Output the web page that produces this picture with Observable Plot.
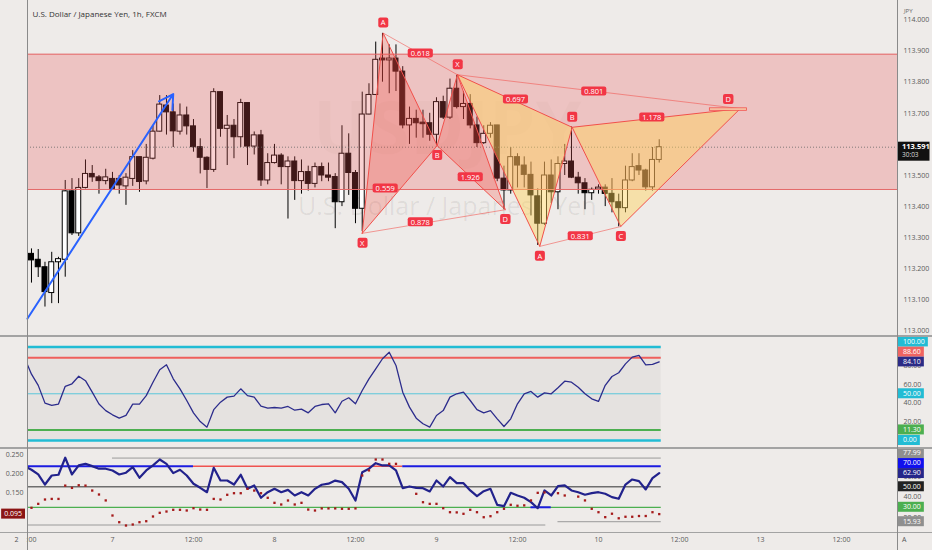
<!DOCTYPE html>
<html>
<head>
<meta charset="utf-8">
<script src="https://cdn.jsdelivr.net/npm/d3@7"></script>
<script src="https://cdn.jsdelivr.net/npm/@observablehq/plot@0.6"></script>
<style>
  html,body{margin:0;padding:0;background:#eeebe9;}
  #wrap{position:relative;width:932px;height:550px;overflow:hidden;background:#eeebe9;font-family:"Open Sans",sans-serif;}
  #wrap svg{position:absolute;left:0;}
  .sep{position:absolute;background:#a3a3a3;}
</style>
</head>
<body>
<div id="wrap"></div>
<script>
// ---------------- DATA ----------------
const openP = [113.248,113.229,113.205,113.122,113.221,113.229,113.449,113.314,113.46,113.505,
113.494,113.482,113.489,113.489,113.465,113.489,113.559,113.481,113.554,113.641,
113.725,113.703,113.641,113.693,113.658,113.591,113.557,113.518,113.768,113.65,
113.66,113.623,113.733,113.593,113.629,113.484,113.54,113.564,113.527,113.545,
113.482,113.511,113.473,113.527,113.5,113.495,113.414,113.57,113.508,113.393,
113.696,113.759,113.876,113.87,113.876,113.834,113.661,113.682,113.67,113.668,
113.631,113.736,113.686,113.779,113.72,113.73,113.661,113.604,113.634,113.661,
113.49,113.452,113.559,113.532,113.502,113.433,113.345,113.5,113.446,113.537,
113.545,113.493,113.475,113.443,113.455,113.461,113.441,113.414,113.395,113.484,
113.53,113.516,113.462,113.55];
const highP = [113.264,113.262,113.221,113.253,113.237,113.484,113.49,113.49,113.55,113.532,
113.5,113.52,113.51,113.5,113.506,113.58,113.559,113.6,113.66,113.757,
113.757,113.73,113.73,113.72,113.68,113.618,113.56,113.779,113.77,113.693,
113.68,113.745,113.733,113.64,113.645,113.57,113.6,113.57,113.56,113.56,
113.55,113.53,113.54,113.54,113.54,113.506,113.66,113.634,113.516,113.768,
113.795,113.929,113.957,113.92,113.92,113.85,113.72,113.71,113.71,113.7,
113.75,113.755,113.81,113.822,113.77,113.76,113.688,113.66,113.67,113.661,
113.53,113.59,113.57,113.56,113.543,113.457,113.543,113.55,113.56,113.6,
113.656,113.51,113.49,113.46,113.47,113.47,113.49,113.44,113.53,113.57,
113.57,113.52,113.59,113.615];
const lowP = [113.154,113.172,113.077,113.088,113.088,113.173,113.307,113.304,113.457,113.478,
113.44,113.47,113.457,113.44,113.404,113.465,113.446,113.47,113.55,113.64,
113.63,113.59,113.63,113.63,113.575,113.505,113.458,113.51,113.623,113.532,
113.554,113.59,113.532,113.566,113.465,113.47,113.537,113.47,113.36,113.42,
113.44,113.45,113.46,113.48,113.48,113.329,113.4,113.436,113.345,113.32,
113.695,113.757,113.8,113.763,113.77,113.65,113.6,113.62,113.62,113.61,
113.596,113.68,113.68,113.714,113.68,113.65,113.59,113.6,113.62,113.48,
113.39,113.44,113.46,113.46,113.37,113.275,113.34,113.41,113.39,113.5,
113.49,113.44,113.39,113.42,113.44,113.4,113.38,113.335,113.38,113.48,
113.5,113.45,113.45,113.54];
const closeP = [113.227,113.205,113.125,113.221,113.231,113.449,113.314,113.46,113.505,113.494,
113.482,113.494,113.457,113.468,113.493,113.559,113.479,113.557,113.641,113.728,
113.703,113.642,113.693,113.658,113.591,113.557,113.518,113.768,113.65,113.66,
113.623,113.733,113.593,113.629,113.484,113.54,113.564,113.527,113.545,113.482,
113.511,113.473,113.527,113.5,113.493,113.414,113.57,113.508,113.393,113.696,
113.759,113.872,113.87,113.876,113.834,113.661,113.682,113.668,113.665,113.631,
113.736,113.686,113.779,113.72,113.73,113.661,113.604,113.634,113.66,113.49,
113.452,113.559,113.532,113.502,113.436,113.345,113.5,113.446,113.537,113.545,
113.493,113.475,113.443,113.454,113.461,113.441,113.414,113.395,113.484,113.527,
113.516,113.462,113.55,113.591];

const zoneLow = 113.455, zoneHigh = 113.89;
const mainTicks = [113.0,113.1,113.2,113.3,113.4,113.5,113.6,113.7,113.8,113.9,114.0];

const pointNames = ["X","A","B","C","D"];
const p1Bars = [49.0, 52.1, 60.1, 63.1, 70.2];
const p1Prices = [113.314, 113.958, 113.596, 113.824, 113.39];
const p2Bars = [63.1, 75.3, 80.1, 87.3, 105.0];
const p2Prices = [113.824, 113.272, 113.655, 113.336, 113.715];
const ratio1Text = ["0.618","0.559","1.926","0.878"];
const ratio1Bars = [57.6, 52.4, 65.0, 57.6];
const ratio1Prices = [113.892, 113.458, 113.494, 113.349];
const ratio2Text = ["0.697","0.801","1.178","0.831"];
const ratio2Bars = [71.7, 83.3, 91.9, 81.3];
const ratio2Prices = [113.744, 113.77, 113.686, 113.304];
const dMarkBars = [100.5, 106.0];
const dMarkPrices = [113.708, 113.716];

const arrowBars = [-0.59, 21.0];
const arrowPrices = [113.04, 113.762];

const titleText = "U.S. Dollar / Japanese Yen, 1h, FXCM";
const watermarkText = ["USDJPY", "U.S. Dollar / Japanese Yen"];
const watermarkBars = [61.6, 61.6];
const watermarkPrices = [113.645, 113.40];

const rsiPrev = 88;
const rsiVals = [71,59,40,37.5,39,58,60.7,68.8,64,51.7,
39,32,27.5,24,26.8,39,39,48,62.4,75.7,
81,66,55.3,42.8,29.6,20.3,14.3,33,41,46.4,
47.5,55.3,48,46.4,36.7,34.6,35.3,34.6,36.4,32.4,
33.5,29.6,36.4,38.5,39.3,29.6,42,45.7,39.3,53.5,
66,76.7,87.5,94.5,80.3,51.7,35.7,23.9,17.9,14.3,
26.8,32,46.4,50,51.7,42.8,33,29.6,32,23.2,
15,23.2,39.3,50,52.5,46.4,51,50,56.4,63.5,
62.4,57,50,44.6,41.8,59,68.5,72.5,82,89.2,
91,81,81.4,84.1];
const rsiUpper = 88.6, rsiLower = 11.3, rsiMid = 50, rsiTop = 100, rsiBottom = 0;

const oscPrev = 70;
const oscVals = [66.6,62,52.2,61,61.7,78.3,62,70.8,72.4,70.1,
67.6,67.6,65.9,62,63.7,69.1,58.8,65.9,70.8,76.6,
72.4,63.3,66.6,61,52.9,49,44.7,68.5,56.1,56.1,
52.2,61.7,48,51.3,39.3,44.7,48,44.7,47,41.5,
44.7,41.5,48,52,53,56,54.5,48,36.6,64.2,
67.6,73,70.8,70.8,65.9,48.6,50.3,49,48.6,45.4,
56.1,50.3,59.4,53.5,53.5,46.4,40.8,45.7,48,32.4,
31.1,44.1,41.5,39.3,35,29.1,46.4,41.5,50.6,51.3,
46.4,44.7,42.2,43.8,44.7,43.2,39.9,38.3,52.2,57.1,
55.5,47.4,58.4,63.3];
const sarVals = [.1116,.122,.1334,.135,.135,.170,.164,.171,.170,.157,
.1466,.131,.0913,.0737,.065,.0676,.0737,.0763,.0887,.0984,
.1018,.1063,.1063,.1045,.1105,.107,.1063,.135,.1334,.1458,
.15,.15,.1616,.157,.15,.1379,.1247,.1203,.1308,.1203,
.1247,.107,.1045,.11,.11,.11,.109,.109,.11,.1966,
.21,.2387,.2387,.2273,.2273,null,null,.1484,.1263,.122,
.122,.1105,.1,.0995,.0958,.1063,.1,.0868,.0895,.1,
.109,.1195,.117,.118,.131,.151,.152,null,.15,.144,
null,.141,.131,.109,.1,.087,.096,.084,.088,.088,
.09,.09,.1,.095];
const oscHigh = 77.99, oscHighFrom = 12;
const oscLowA = 12.7, oscLowATo = 76.2;
const oscLowB = 15.93, oscLowBFrom = 78;
const oscTop = 70, oscMid = 50, oscBottom = 30, oscLast = 62.9;
const oscRedFrom = 24, oscRedTo = 55;
const oscDipFrom = 74, oscDipTo = 77;

const xTickBars = [0,12,24,36,48,60,72,84,96,108,120];
const xTickLabels = [":00","7","12:00","8","12:00","9","12:00","10","12:00","13","12:00"];

// ---------------- LAYOUT ----------------
const W = 932, ML = 27, MR = 35;
const xDomain = [-0.59, 128.3];
const FONT = "'Open Sans', sans-serif";
const wrap = document.getElementById("wrap");
const baseStyle = {background: "transparent", fontFamily: FONT, fontSize: "7px", color: "#5a5a5a", overflow: "visible"};

const bars = openP.map((o, i) => ({i, o, h: highP[i], l: lowP[i], c: closeP[i]}));
const lastI = bars.length - 1;
const lastClose = closeP[lastI];
const endX = lastI + 0.3;

const pts = (bx, py) => bx.map((x, k) => ({x, y: py[k], name: pointNames[k]}));
const p1 = pts(p1Bars, p1Prices), p2 = pts(p2Bars, p2Prices);
const tris = (p, id) => [[0,1,2,0],[2,3,4,2]].flatMap((t, j) => t.map(k => ({...p[k], z: id + j})));
const diags = (p, id) => [[1,3],[0,4]].flatMap((t, j) => t.map(k => ({...p[k], z: id + j})));
const ratios = ratio1Text.map((t, k) => ({x: ratio1Bars[k], y: ratio1Prices[k], t}))
  .concat(ratio2Text.map((t, k) => ({x: ratio2Bars[k], y: ratio2Prices[k], t})));
const labelsAbove = [p1[1], p2[0], p2[2]];
const labelsBelow = [p1[0], p1[2], p1[4], p2[1], p2[3]];
const labelsD = [p2[4]];
const wm = watermarkText.map((t, k) => ({t, x: watermarkBars[k], y: watermarkPrices[k]}));
const RED = "#f2504b";

const main = Plot.plot({
  width: W, height: 336, marginLeft: ML, marginRight: MR, marginTop: 0, marginBottom: 0,
  style: baseStyle,
  x: {domain: xDomain, axis: null},
  y: {domain: [112.9823, 114.0627], axis: null},
  marks: [
    Plot.text(wm.slice(0,1), {x: "x", y: "y", text: "t", fontSize: 74, fontWeight: "bold", fill: "#000", fillOpacity: 0.025}),
    Plot.text(wm.slice(1), {x: "x", y: "y", text: "t", fontSize: 25, fill: "#000", fillOpacity: 0.07}),
    Plot.ruleX(bars, {x: "i", y1: "l", y2: "h", stroke: "#000", strokeWidth: 1}),
    Plot.rect(bars, {x1: d => d.i - 0.37, x2: d => d.i + 0.37, y1: "o", y2: "c",
      fill: d => d.c >= d.o ? "#ffffff" : "#000000", stroke: "#000", strokeWidth: 1}),
    Plot.rect([{lo: zoneLow, hi: zoneHigh}], {y1: "lo", y2: "hi", fill: "#ec5a5a", fillOpacity: 0.27}),
    Plot.ruleY([zoneLow, zoneHigh], {stroke: "#e46a6a", strokeWidth: 1}),
    Plot.ruleY([lastClose], {stroke: "#666", strokeDasharray: "1,2", strokeWidth: 0.8}),
    Plot.line(tris(p1, "a"), {x: "x", y: "y", z: "z", fill: "#f44336", fillOpacity: 0.25, stroke: RED, strokeWidth: 1}),
    Plot.line(diags(p1, "a"), {x: "x", y: "y", z: "z", stroke: RED, strokeWidth: 0.8, strokeOpacity: 0.7}),
    Plot.line(tris(p2, "b"), {x: "x", y: "y", z: "z", fill: "#ffd25a", fillOpacity: 0.45, stroke: RED, strokeWidth: 1}),
    Plot.line(diags(p2, "b"), {x: "x", y: "y", z: "z", stroke: RED, strokeWidth: 0.8, strokeOpacity: 0.7}),
    Plot.rect([{a: dMarkBars[0], b: dMarkBars[1], c: dMarkPrices[0], d: dMarkPrices[1]}],
      {x1: "a", x2: "b", y1: "c", y2: "d", fill: "#f7c9a8", stroke: RED, strokeWidth: 0.8}),
    Plot.arrow([{x1: arrowBars[0], y1: arrowPrices[0], x2: arrowBars[1], y2: arrowPrices[1]}],
      {x1: "x1", y1: "y1", x2: "x2", y2: "y2", stroke: "#2962ff", strokeWidth: 2, headLength: 12}),
    Plot.text(ratios, {x: "x", y: "y", text: "t", fill: "#fff", fontSize: 7.5, ariaDescription: "rbadge"}),
    Plot.text(labelsAbove, {x: "x", y: "y", text: "name", dy: -10, fill: "#fff", fontSize: 7.5, ariaDescription: "lbadge"}),
    Plot.text(labelsBelow, {x: "x", y: "y", text: "name", dy: 10, fill: "#fff", fontSize: 7.5, ariaDescription: "lbadge"}),
    Plot.text(labelsD, {x: "x", y: "y", text: "name", dx: -12, dy: -9, fill: "#fff", fontSize: 7.5, ariaDescription: "lbadge"}),
    Plot.axisY({anchor: "right", ticks: mainTicks, tickFormat: d3.format(".3f"), tickSize: 0, tickPadding: 6, label: null}),
    Plot.text(["JPY"], {frameAnchor: "top-right", dx: 15, dy: 8, fontSize: 6, fill: "#666"}),
    Plot.text([titleText], {frameAnchor: "top-left", dx: 5, dy: 11, textAnchor: "start", fontSize: 8, fill: "#333"})
  ]
});

const rsiData = [{i: -1, v: rsiPrev}, ...rsiVals.map((v, i) => ({i, v}))];
const rsi = Plot.plot({
  width: W, height: 111, marginLeft: ML, marginRight: MR, marginTop: 0, marginBottom: 0,
  style: baseStyle,
  x: {domain: xDomain, axis: null},
  y: {domain: [-7.5, 111.3], axis: null},
  marks: [
    Plot.rect([{a: rsiBottom, b: rsiTop}], {x1: xDomain[0], x2: endX, y1: "a", y2: "b", fill: "#000", fillOpacity: 0.035}),
    Plot.ruleY([rsiTop, rsiBottom], {x1: xDomain[0], x2: endX, stroke: "#22bcd4", strokeWidth: 2.5}),
    Plot.ruleY([rsiUpper], {x1: xDomain[0], x2: endX, stroke: "#ef5f5c", strokeWidth: 2}),
    Plot.ruleY([rsiLower], {x1: xDomain[0], x2: endX, stroke: "#4caf50", strokeWidth: 2}),
    Plot.ruleY([rsiMid], {x1: xDomain[0], x2: endX, stroke: "#5cc8da", strokeWidth: 1}),
    Plot.line(rsiData, {x: "i", y: "v", stroke: "#2c2c8c", strokeWidth: 1.3, clip: true}),
    Plot.axisY({anchor: "right", ticks: [20, 40, 60, 80], tickFormat: d3.format(".2f"), tickSize: 0, tickPadding: 6, label: null})
  ]
});

const oscData = [{i: -1, v: oscPrev}, ...oscVals.map((v, i) => ({i, v}))];
const xLabel = new Map(xTickBars.map((b, k) => [b, xTickLabels[k]]));
const osc = Plot.plot({
  width: W, height: 103, marginLeft: ML, marginRight: MR, marginTop: 0, marginBottom: 18,
  style: baseStyle,
  x: {domain: xDomain, axis: null},
  y: {domain: [5.4, 88.3], axis: null},
  marks: [
    Plot.ruleY([oscHigh], {x1: oscHighFrom, x2: endX, stroke: "#9a9a9a", strokeWidth: 1}),
    Plot.ruleY([oscLowA], {x1: xDomain[0], x2: oscLowATo, stroke: "#9a9a9a", strokeWidth: 1}),
    Plot.ruleY([oscLowB], {x1: oscLowBFrom, x2: endX, stroke: "#9a9a9a", strokeWidth: 1}),
    Plot.ruleY([oscMid], {x1: xDomain[0], x2: endX, stroke: "#6e6e6e", strokeWidth: 1.3}),
    Plot.ruleY([oscBottom], {x1: xDomain[0], x2: endX, stroke: "#4caf50", strokeWidth: 1.3}),
    Plot.ruleY([oscTop], {x1: xDomain[0], x2: oscRedFrom, stroke: "#1c1ce0", strokeWidth: 1.8}),
    Plot.ruleY([oscTop], {x1: oscRedFrom, x2: oscRedTo, stroke: "#ef5350", strokeWidth: 1.5}),
    Plot.ruleY([oscTop], {x1: oscRedTo, x2: endX, stroke: "#1c1ce0", strokeWidth: 1.8}),
    Plot.ruleY([oscBottom], {x1: oscDipFrom, x2: oscDipTo, stroke: "#1c1ce0", strokeWidth: 2}),
    Plot.line(oscData, {x: "i", y: "v", stroke: "#22228c", strokeWidth: 2.2, clip: true}),
    Plot.axisY({anchor: "right", ticks: [20, 40, 60], tickFormat: d3.format(".2f"), tickSize: 0, tickPadding: 6, label: null}),
    Plot.axisX({ticks: xTickBars, tickFormat: d => xLabel.get(d), tickSize: 0, tickPadding: 5, label: null}),
    Plot.text(["2"], {frameAnchor: "bottom-left", dx: -13, dy: 9, fill: "#555"}),
    Plot.text(["A"], {frameAnchor: "bottom-right", dx: 9, dy: 9, fill: "#555"})
  ]
});

const sarData = sarVals.map((v, i) => ({i, v})).filter(d => d.v != null);
const sar = Plot.plot({
  width: W, height: 103, marginLeft: ML, marginRight: MR, marginTop: 0, marginBottom: 18,
  style: baseStyle,
  x: {domain: xDomain, axis: null},
  y: {domain: [0.0466, 0.2703], axis: null},
  marks: [
    Plot.dot(sarData, {x: "i", y: "v", r: 1.3, symbol: "square", fill: "#a51a1a"}),
    Plot.axisY({anchor: "left", ticks: [0.1, 0.15, 0.2, 0.25], tickFormat: d3.format(".3f"), tickSize: 0, tickPadding: 4, label: null})
  ]
});

const place = (svg, top) => { svg.style.top = top + "px"; wrap.appendChild(svg); };
place(main, 0); place(rsi, 336); place(osc, 447); place(sar, 447);

// red boxes behind the pattern labels
const NS = "http://www.w3.org/2000/svg";
const boxTexts = new Set([...ratio1Text, ...ratio2Text]);
function boxify(svg, desc, fill, padX, padY, fallback) {
  let texts = [...svg.querySelectorAll(`g[aria-description="${desc}"] text`)];
  if (!texts.length) texts = [...svg.querySelectorAll("text")].filter(fallback);
  texts.forEach(t => {
    const b = t.getBBox();
    const r = document.createElementNS(NS, "rect");
    r.setAttribute("x", b.x - padX); r.setAttribute("y", b.y - padY);
    r.setAttribute("width", b.width + 2 * padX); r.setAttribute("height", b.height + 2 * padY);
    r.setAttribute("rx", 2); r.setAttribute("fill", fill); r.setAttribute("stroke", "none");
    if (t.getAttribute("transform")) r.setAttribute("transform", t.getAttribute("transform"));
    t.parentNode.insertBefore(r, t);
  });
}
boxify(main, "rbadge", "#f23645", 3, -0.5, t => boxTexts.has(t.textContent));
boxify(main, "lbadge", "#f23645", 2.5, 0, t => pointNames.includes(t.textContent));

// axis value badges, placed with the plots' own y scales
function axisBadges(chart, items, side) {
  const y = chart.scale("y");
  const arr = items.map(d => ({...d, py: y.apply(d.v)})).sort((a, b) => b.py - a.py);
  for (let k = 1; k < arr.length; k++) if (arr[k - 1].py - arr[k].py < 10) arr[k].py = arr[k - 1].py - 10;
  const g = d3.select(chart).append("g").attr("font-size", 7).attr("font-family", FONT);
  arr.forEach(d => {
    const t = g.append("text").attr("fill", "#fff").attr("dy", "0.34em").attr("y", d.py).text(d.label);
    if (side === "right") t.attr("x", W - MR + 6).attr("text-anchor", "start");
    else t.attr("x", ML - 5).attr("text-anchor", "end");
    const b = t.node().getBBox();
    g.insert("rect", () => t.node())
      .attr("x", side === "right" ? W - MR + 1 : b.x - 3)
      .attr("width", side === "right" ? b.x + b.width + 3 - (W - MR + 1) : b.width + 6)
      .attr("y", d.py - 5).attr("height", 10).attr("fill", d.fill);
  });
}
axisBadges(rsi, [
  {v: rsiTop, label: "100.00", fill: "#22bcd4"},
  {v: rsiUpper, label: "88.60", fill: "#ef6461"},
  {v: rsiVals[lastI], label: "84.10", fill: "#2b2b86"},
  {v: rsiMid, label: "50.00", fill: "#22bcd4"},
  {v: rsiLower, label: "11.30", fill: "#4caf50"},
  {v: rsiBottom, label: "0.00", fill: "#22bcd4"}
], "right");
axisBadges(osc, [
  {v: oscHigh, label: "77.99", fill: "#8f8f8f"},
  {v: oscTop, label: "70.00", fill: "#1010ee"},
  {v: oscLast, label: "62.90", fill: "#26268a"},
  {v: oscMid, label: "50.00", fill: "#222"},
  {v: oscBottom, label: "30.00", fill: "#4caf50"},
  {v: oscLowB, label: "15.93", fill: "#8f8f8f"}
], "right");
axisBadges(sar, [{v: sarVals[lastI], label: "0.095", fill: "#8b1414"}], "left");

// current price badge (two lines)
{
  const py = main.scale("y").apply(lastClose);
  const g = d3.select(main).append("g").attr("font-family", FONT).attr("text-anchor", "start");
  g.append("rect").attr("x", W - MR + 0.5).attr("y", py - 5).attr("width", 32).attr("height", 19).attr("fill", "#111");
  g.append("text").attr("x", W - MR + 5).attr("y", py).attr("dy", "0.34em").attr("fill", "#fff")
    .attr("font-size", 7.5).attr("font-weight", "bold").text(lastClose.toFixed(3));
  g.append("text").attr("x", W - MR + 5).attr("y", py + 8.5).attr("dy", "0.34em").attr("fill", "#ddd")
    .attr("font-size", 6.5).text("30:03");
}

// panel separators
const sep = (l, t, w, h, c) => { const d = document.createElement("div"); d.className = "sep";
  Object.assign(d.style, {left: l + "px", top: t + "px", width: w + "px", height: h + "px"}); if (c) d.style.background = c; wrap.appendChild(d); };
sep(0, 335, W, 2); sep(0, 446.5, W, 2); sep(0, 531.5, W, 1);
sep(27, 0, 1, 550, "#8a8a8a"); sep(896.5, 0, 1, 550, "#8a8a8a");
</script>
</body>
</html>
